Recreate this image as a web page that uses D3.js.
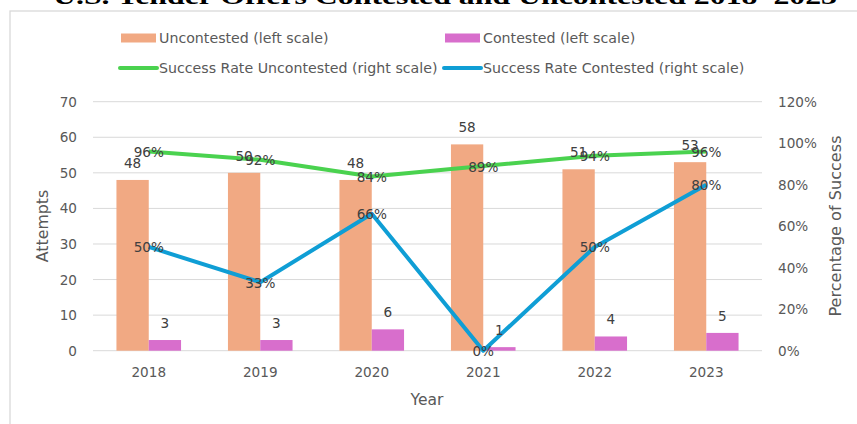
<!DOCTYPE html>
<meta charset="utf-8">
<style>
body { margin: 0; background: #fff; font-family: "DejaVu Sans", sans-serif; }
.grid line { stroke: #d9d9d9; stroke-width: 1; }
.tick-label { fill: #595959; font-size: 13.6px; }
.axis-title { fill: #595959; }
.data-label { fill: #404040; font-size: 13.6px; }
.legend text { fill: #595959; font-size: 14.2px; }
</style>
<body>
<script src="https://d3js.org/d3.v7.min.js"></script>
<script>

// data
var years = ["2018", "2019", "2020", "2021", "2022", "2023"];
var uncontested = [48, 50, 48, 58, 51, 53];
var contested = [3, 3, 6, 1, 4, 5];
var rateUncontested = [0.96, 0.92, 0.84, 0.89, 0.94, 0.96];
var rateContested = [0.50, 0.33, 0.66, 0.00, 0.50, 0.80];
var leftTicks = [0, 10, 20, 30, 40, 50, 60, 70];
var rightTicks = [0, 0.2, 0.4, 0.6, 0.8, 1.0, 1.2];

var W = 857, H = 424;
var plot = { left: 93, right: 762, top: 101.7, bottom: 350.7 };

var svg = d3.select("body").append("svg")
  .attr("width", W)
  .attr("height", H);

// chart frame
svg.append("rect")
  .attr("x", 10).attr("y", 11)
  .attr("width", W + 20).attr("height", H)
  .attr("fill", "#fff")
  .attr("stroke", "#d9d9d9")
  .attr("stroke-width", 1.3);

// title (cut off at the top like in the source)
svg.append("text")
  .attr("x", 53).attr("y", 3.5)
  .attr("textLength", 784)
  .attr("lengthAdjust", "spacingAndGlyphs")
  .style("font-family", "'Liberation Serif', 'DejaVu Serif', serif")
  .style("font-weight", "bold")
  .style("font-size", "24px")
  .attr("fill", "#000")
  .text("U.S. Tender Offers Contested and Uncontested 2018\u20132023");

var x0 = d3.scaleBand()
  .domain(years)
  .range([plot.left, plot.right])
  .padding(0);

var x1 = d3.scaleBand()
  .domain(["u", "c"])
  .range([0, x0.bandwidth()])
  .paddingInner(0)
  .paddingOuter(0.726);

var yL = d3.scaleLinear().domain([0, 70]).range([plot.bottom, plot.top]);
var yR = d3.scaleLinear().domain([0, 1.2]).range([plot.bottom, plot.top]);

// gridlines
svg.append("g").attr("class", "grid")
  .selectAll("line")
  .data(leftTicks)
  .enter().append("line")
  .attr("x1", plot.left).attr("x2", plot.right)
  .attr("y1", function(d) { return yL(d); })
  .attr("y2", function(d) { return yL(d); });

// left tick labels
svg.append("g").selectAll("text")
  .data(leftTicks)
  .enter().append("text")
  .attr("class", "tick-label")
  .attr("x", 77)
  .attr("y", function(d) { return yL(d) + 5; })
  .attr("text-anchor", "end")
  .text(function(d) { return d; });

// right tick labels
svg.append("g").selectAll("text")
  .data(rightTicks)
  .enter().append("text")
  .attr("class", "tick-label")
  .attr("x", 778)
  .attr("y", function(d) { return yR(d) + 5; })
  .text(function(d) { return Math.round(d * 100) + "%"; });

// x tick labels
svg.append("g").selectAll("text")
  .data(years)
  .enter().append("text")
  .attr("class", "tick-label")
  .attr("x", function(d) { return x0(d) + x0.bandwidth() / 2; })
  .attr("y", 377)
  .attr("text-anchor", "middle")
  .text(function(d) { return d; });

// axis titles
svg.append("text")
  .attr("class", "axis-title")
  .attr("x", 427).attr("y", 405)
  .attr("text-anchor", "middle")
  .style("font-size", "15.5px")
  .text("Year");

svg.append("text")
  .attr("class", "axis-title")
  .attr("transform", "translate(48,226) rotate(-90)")
  .attr("text-anchor", "middle")
  .style("font-size", "15.8px")
  .text("Attempts");

svg.append("text")
  .attr("class", "axis-title")
  .attr("transform", "translate(841,226) rotate(-90)")
  .attr("text-anchor", "middle")
  .style("font-size", "16.1px")
  .text("Percentage of Success");

// bars
var barSeries = [
  { key: "u", values: uncontested, color: "#f1a983" },
  { key: "c", values: contested, color: "#d86ecc" }
];

barSeries.forEach(function(s) {
  var g = svg.append("g");
  g.selectAll("rect")
    .data(years)
    .enter().append("rect")
    .attr("x", function(d) { return x0(d) + x1(s.key); })
    .attr("width", x1.bandwidth())
    .attr("y", function(d, i) { return yL(s.values[i]); })
    .attr("height", function(d, i) { return yL(0) - yL(s.values[i]); })
    .attr("fill", s.color);
});

// lines
var lineSeries = [
  { values: rateUncontested, color: "#4ad24f" },
  { values: rateContested, color: "#0f9ed5" }
];

lineSeries.forEach(function(s) {
  var line = d3.line()
    .x(function(d, i) { return x0(years[i]) + x0.bandwidth() / 2; })
    .y(function(d) { return yR(d); });
  svg.append("path")
    .datum(s.values)
    .attr("d", line)
    .attr("fill", "none")
    .attr("stroke", s.color)
    .attr("stroke-width", 4)
    .attr("stroke-linejoin", "round");
});

// bar value labels
barSeries.forEach(function(s) {
  svg.append("g").selectAll("text")
    .data(years)
    .enter().append("text")
    .attr("class", "data-label")
    .attr("x", function(d) { return x0(d) + x1(s.key) + x1.bandwidth() / 2; })
    .attr("y", function(d, i) { return yL(s.values[i]) - 12; })
    .attr("text-anchor", "middle")
    .text(function(d, i) { return s.values[i]; });
});

// line value labels
lineSeries.forEach(function(s) {
  svg.append("g").selectAll("text")
    .data(years)
    .enter().append("text")
    .attr("class", "data-label")
    .attr("x", function(d) { return x0(d) + x0.bandwidth() / 2; })
    .attr("y", function(d, i) { return yR(s.values[i]) + 5.5; })
    .attr("text-anchor", "middle")
    .text(function(d, i) { return Math.round(s.values[i] * 100) + "%"; });
});

// legend
var legend = svg.append("g").attr("class", "legend");
var legendItems = [
  { label: "Uncontested (left scale)", color: "#f1a983", type: "rect", x: 121, y: 38 },
  { label: "Contested (left scale)", color: "#d86ecc", type: "rect", x: 445, y: 38 },
  { label: "Success Rate Uncontested (right scale)", color: "#4ad24f", type: "line", x: 120, y: 68 },
  { label: "Success Rate Contested (right scale)", color: "#0f9ed5", type: "line", x: 444, y: 68 }
];

legendItems.forEach(function(d) {
  if (d.type === "rect") {
    legend.append("rect")
      .attr("x", d.x).attr("y", d.y - 4.5)
      .attr("width", 35).attr("height", 9)
      .attr("fill", d.color);
  } else {
    legend.append("line")
      .attr("x1", d.x).attr("x2", d.x + 37)
      .attr("y1", d.y).attr("y2", d.y)
      .attr("stroke", d.color)
      .attr("stroke-width", 4)
      .attr("stroke-linecap", "round");
  }
  legend.append("text")
    .attr("x", 159 + (d.x > 300 ? 324 : 0))
    .attr("y", d.y + 5)
    .text(d.label);
});

</script>
</body>
